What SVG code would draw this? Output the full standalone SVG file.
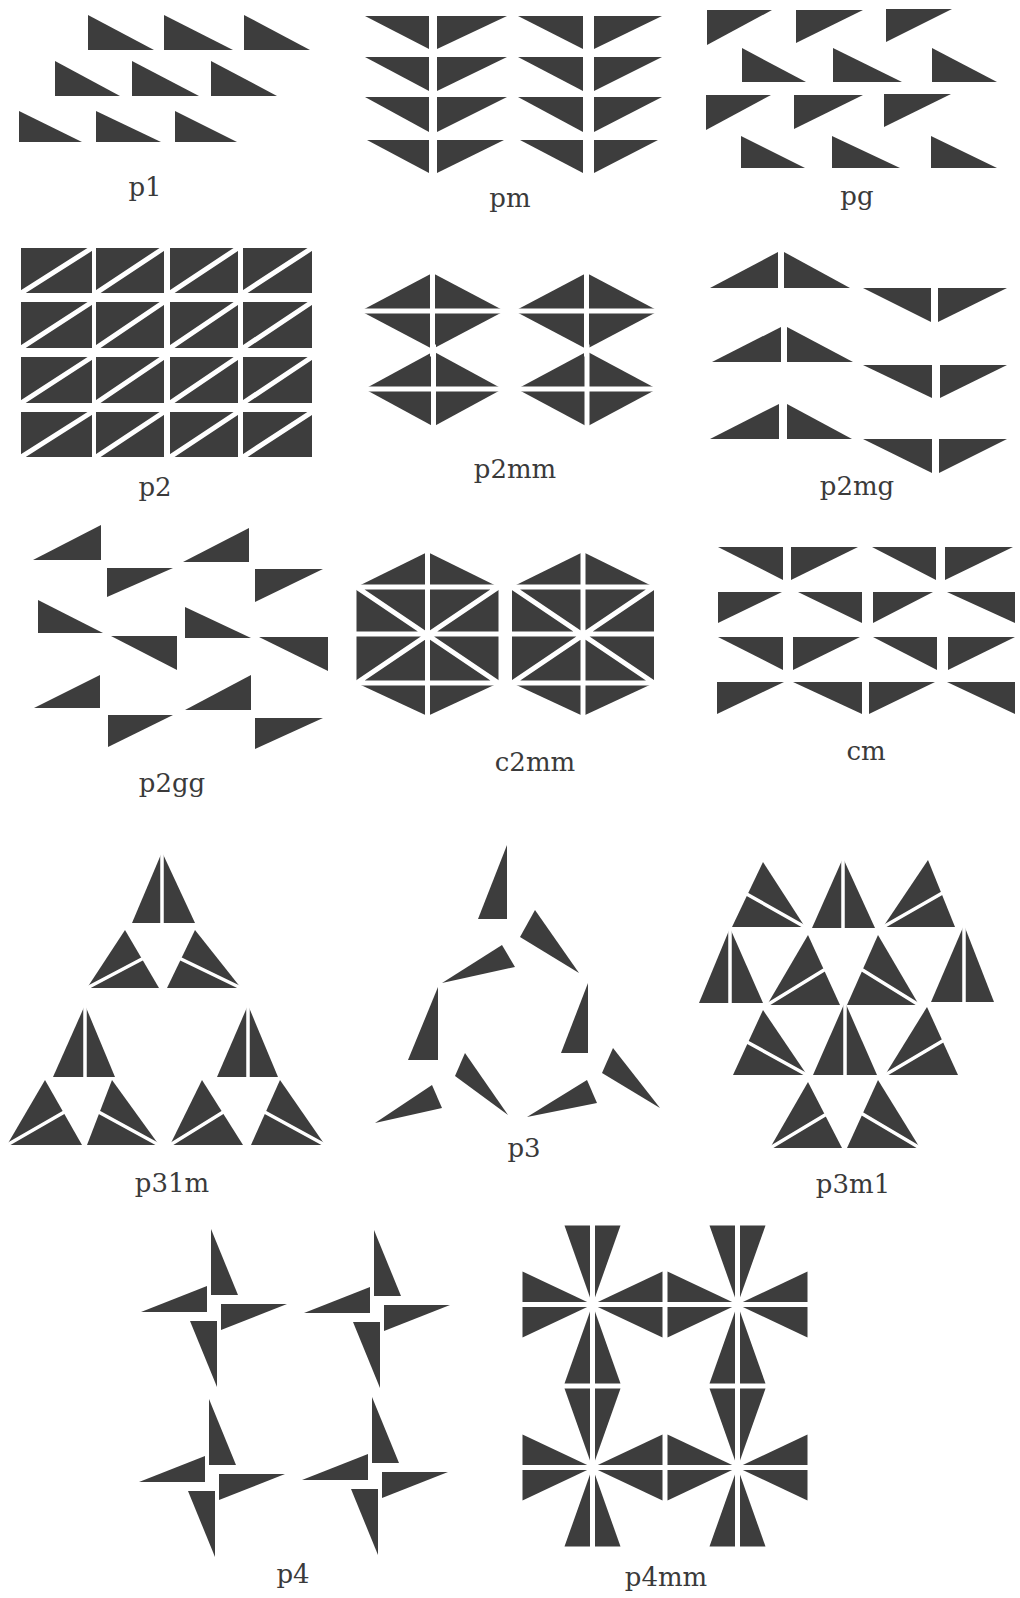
<svg xmlns="http://www.w3.org/2000/svg" xmlns:xlink="http://www.w3.org/1999/xlink" width="1020" height="1598" viewBox="0 0 1020 1598">
<style>
.t{fill:#3d3d3d}
.w{stroke:#fff;fill:none;stroke-width:5;stroke-linecap:square}
.ws{stroke:#fff;fill:none;stroke-width:3.5;stroke-linecap:round}
.lbl{font-family:"DejaVu Serif","Liberation Serif",serif;font-size:26px;fill:#3a3a3a;text-anchor:middle}
</style>
<defs>
<g id="pw">
<polygon class="t" points="-3,-79 -3,-13 24,-13"/>
<polygon class="t" points="73,-4 7,-4 7,22"/>
<polygon class="t" points="3,79 3,13 -24,13"/>
<polygon class="t" points="-73,4 -7,4 -7,-22"/>
</g>
<g id="star">
<polygon class="t" points="0,0 -28,-79 28,-79"/>
<polygon class="t" points="0,0 -28,79 28,79"/>
<polygon class="t" points="0,0 -70,-33 -70,33"/>
<polygon class="t" points="0,0 70,-33 70,33"/>
<path class="w" stroke-width="4" d="M0,-82 V82 M-73,0 H73"/>
</g>
</defs>
<rect width="1020" height="1598" fill="#fff"/>

<g id="p1">
<polygon class="t" points="88,15 88,50 154,50"/>
<polygon class="t" points="164,15 164,50 233,50"/>
<polygon class="t" points="244,15 244,50 310,50"/>
<polygon class="t" points="55,61 55,96 120,96"/>
<polygon class="t" points="132,61 132,96 199,96"/>
<polygon class="t" points="211,61 211,96 277,96"/>
<polygon class="t" points="19,111 19,142 82,142"/>
<polygon class="t" points="96,111 96,142 161,142"/>
<polygon class="t" points="175,111 175,142 237,142"/>
<text class="lbl" x="145" y="196">p1</text>
</g>

<g id="pm">
<polygon class="t" points="365,16 429,16 429,49"/><polygon class="t" points="437,16 507,16 437,49"/>
<polygon class="t" points="518,16 583,16 583,49"/><polygon class="t" points="594,16 662,16 594,49"/>
<polygon class="t" points="365,57 429,57 429,91"/><polygon class="t" points="437,57 507,57 437,91"/>
<polygon class="t" points="518,57 583,57 583,91"/><polygon class="t" points="594,57 662,57 594,91"/>
<polygon class="t" points="365,97 429,97 429,132"/><polygon class="t" points="437,97 507,97 437,132"/>
<polygon class="t" points="518,97 583,97 583,132"/><polygon class="t" points="594,97 662,97 594,132"/>
<polygon class="t" points="367,140 429,140 429,173"/><polygon class="t" points="437,140 504,140 437,173"/>
<polygon class="t" points="520,140 583,140 583,173"/><polygon class="t" points="594,140 658,140 594,173"/>
<text class="lbl" x="510" y="207">pm</text>
</g>

<g id="pg">
<polygon class="t" points="707,10 772,10 707,45"/>
<polygon class="t" points="796,10 863,10 796,43"/>
<polygon class="t" points="886,9 952,9 886,42"/>
<polygon class="t" points="742,48 742,82 806,82"/>
<polygon class="t" points="833,48 833,82 902,82"/>
<polygon class="t" points="932,48 932,82 997,82"/>
<polygon class="t" points="706,95 771,95 706,130"/>
<polygon class="t" points="794,95 863,95 794,129"/>
<polygon class="t" points="884,94 951,94 884,127"/>
<polygon class="t" points="741,136 741,168 805,168"/>
<polygon class="t" points="832,136 832,168 900,168"/>
<polygon class="t" points="931,136 931,168 997,168"/>
<text class="lbl" x="857" y="205">pg</text>
</g>

<g id="p2">
<rect class="t" x="21" y="248" width="71" height="45"/><rect class="t" x="96" y="248" width="68" height="45"/><rect class="t" x="170" y="248" width="68" height="45"/><rect class="t" x="243" y="248" width="69" height="45"/>
<rect class="t" x="21" y="302" width="71" height="46"/><rect class="t" x="96" y="302" width="68" height="46"/><rect class="t" x="170" y="302" width="68" height="46"/><rect class="t" x="243" y="302" width="69" height="46"/>
<rect class="t" x="21" y="357" width="71" height="46"/><rect class="t" x="96" y="357" width="68" height="46"/><rect class="t" x="170" y="357" width="68" height="46"/><rect class="t" x="243" y="357" width="69" height="46"/>
<rect class="t" x="21" y="412" width="71" height="45"/><rect class="t" x="96" y="412" width="68" height="45"/><rect class="t" x="170" y="412" width="68" height="45"/><rect class="t" x="243" y="412" width="69" height="45"/>
<path class="w" d="M21,293 L92,248 M96,293 L164,248 M170,293 L238,248 M243,293 L312,248 M21,348 L92,302 M96,348 L164,302 M170,348 L238,302 M243,348 L312,302 M21,403 L92,357 M96,403 L164,357 M170,403 L238,357 M243,403 L312,357 M21,457 L92,412 M96,457 L164,412 M170,457 L238,412 M243,457 L312,412"/>
<text class="lbl" x="155" y="496">p2</text>
</g>

<g id="p2mm">
<polygon class="t" points="360.5,311 432.5,273 504.5,311 432.5,349"/>
<polygon class="t" points="514.5,311 586.5,273 658.5,311 586.5,349"/>
<polygon class="t" points="364.5,389 433.5,351.5 502.5,389 433.5,426.5"/>
<polygon class="t" points="517,389 587,351.5 657,389 587,426.5"/>
<path class="w" stroke-width="4.5" stroke-linecap="butt" d="M356,311 H509 M432.5,268 V354 M510,311 H663 M586.5,268 V354 M360,389 H507 M433.5,347 V431 M512,389 H662 M587,347 V431"/>
<text class="lbl" x="515" y="478">p2mm</text>
</g>

<g id="p2mg">
<polygon class="t" points="710,288 778,288 778,252"/><polygon class="t" points="784,252 784,288 850,288"/>
<polygon class="t" points="712,362 781,362 781,327"/><polygon class="t" points="787,327 787,362 853,362"/>
<polygon class="t" points="710,439 779,439 779,404"/><polygon class="t" points="787,404 787,439 852,439"/>
<polygon class="t" points="863,288 931,288 931,322"/><polygon class="t" points="938,288 1007,288 938,322"/>
<polygon class="t" points="863,365 932,365 932,398"/><polygon class="t" points="940,365 1007,365 940,398"/>
<polygon class="t" points="863,439 932,439 932,473"/><polygon class="t" points="939,439 1007,439 939,473"/>
<text class="lbl" x="857" y="495">p2mg</text>
</g>

<g id="p2gg">
<polygon class="t" points="33,560 101,560 101,525"/>
<polygon class="t" points="183,562 249,562 249,528"/>
<polygon class="t" points="107,568 173,568 107,597"/>
<polygon class="t" points="255,569 323,569 255,602"/>
<polygon class="t" points="38,600 38,633 103,633"/>
<polygon class="t" points="185,607 185,638 251,638"/>
<polygon class="t" points="111,636 177,636 177,670"/>
<polygon class="t" points="259,637 328,637 328,671"/>
<polygon class="t" points="34,708 100,708 100,675"/>
<polygon class="t" points="185,710 251,710 251,675"/>
<polygon class="t" points="108,715 173,715 108,747"/>
<polygon class="t" points="255,718 323,718 255,749"/>
<text class="lbl" x="172" y="792">p2gg</text>
</g>

<g id="c2mm">
<polygon class="t" points="427.5,552 498.5,587 498.5,683 427.5,716 356.5,683 356.5,587"/>
<polygon class="t" points="583,552 654,587 654,683 583,716 512,683 512,587"/>
<path class="w" stroke-linecap="butt" d="M427.5,548 V720 M352,587 H503 M352,634 H503 M352,683 H503 M356.5,587 L498.5,683 M356.5,683 L498.5,587"/>
<path class="w" stroke-linecap="butt" d="M583,548 V720 M508,587 H658 M508,634 H658 M508,683 H658 M512,587 L654,683 M512,683 L654,587"/>
<text class="lbl" x="535" y="771">c2mm</text>
</g>

<g id="cm">
<polygon class="t" points="718,547 783,547 783,580"/><polygon class="t" points="791,547 858,547 791,580"/>
<polygon class="t" points="872,547 936,547 936,580"/><polygon class="t" points="945,547 1013,547 945,580"/>
<polygon class="t" points="718,592 782,592 718,623"/><polygon class="t" points="798,592 862,592 862,623"/>
<polygon class="t" points="873,592 933,592 873,623"/><polygon class="t" points="947,592 1015,592 1015,623"/>
<polygon class="t" points="718,637 783,637 783,670"/><polygon class="t" points="793,637 860,637 793,670"/>
<polygon class="t" points="873,637 937,637 937,670"/><polygon class="t" points="948,637 1015,637 948,670"/>
<polygon class="t" points="717,682 784,682 717,714"/><polygon class="t" points="793,682 862,682 862,714"/>
<polygon class="t" points="869,682 935,682 869,714"/><polygon class="t" points="947,682 1015,682 1015,714"/>
<text class="lbl" x="866" y="760">cm</text>
</g>

<g id="p31m">
<polygon class="t" points="162,852 132,923 195,923"/>
<polygon class="t" points="125,930 87,988 159,988"/>
<polygon class="t" points="195,930 167,988 241,988"/>
<polygon class="t" points="85,1005 53,1077 115,1077"/>
<polygon class="t" points="45,1080 7,1145 82,1145"/>
<polygon class="t" points="112,1080 87,1145 159,1145"/>
<polygon class="t" points="248,1005 217,1077 278,1077"/>
<polygon class="t" points="202,1080 170,1145 243,1145"/>
<polygon class="t" points="280,1080 251,1145 325,1145"/>
<path class="ws" stroke-linecap="butt" stroke-width="4" d="M162,848 V926 M85,1001 V1080 M248,1001 V1080"/>
<path class="ws" d="M87,988 L142,959 M241,988 L181,959 M7,1145 L63.5,1112.5 M159,1145 L99.5,1112.5 M170,1145 L222.5,1112.5 M325,1145 L265.5,1112.5"/>
<text class="lbl" x="172" y="1192">p31m</text>
</g>

<g id="p3">
<polygon class="t" points="507,845 507,919 478,919"/>
<polygon class="t" points="535,910 520,937 579,973"/>
<polygon class="t" points="442,983 502,945 515,967"/>
<polygon class="t" points="438,987 438,1060 408,1060"/>
<polygon class="t" points="588,983 588,1053 561,1053"/>
<polygon class="t" points="465,1053 455,1076 508,1115"/>
<polygon class="t" points="375,1123 432,1085 442,1108"/>
<polygon class="t" points="527,1117 587,1080 597,1103"/>
<polygon class="t" points="613,1048 602,1073 660,1108"/>
<text class="lbl" x="524" y="1157">p3</text>
</g>

<g id="p3m1">
<polygon class="t" points="763,862 732,927 805,927"/>
<polygon class="t" points="843,858 812,928 875,928"/>
<polygon class="t" points="928,860 883,927 955,927"/>
<polygon class="t" points="730,928 699,1003 763,1003"/>
<polygon class="t" points="808,935 767,1005 840,1005"/>
<polygon class="t" points="878,935 847,1005 919,1005"/>
<polygon class="t" points="964,925 931,1002 994,1002"/>
<polygon class="t" points="763,1010 733,1075 807,1075"/>
<polygon class="t" points="845,1002 813,1075 877,1075"/>
<polygon class="t" points="927,1007 885,1075 958,1075"/>
<polygon class="t" points="808,1082 770,1148 842,1148"/>
<polygon class="t" points="878,1080 847,1148 920,1148"/>
<path class="ws" stroke-linecap="butt" stroke-width="4" d="M843,854 V931 M730,924 V1006 M964,921 V1005 M845,998 V1078"/>
<path class="ws" d="M805,927 L747.5,894.5 M883,927 L941.5,893.5 M767,1005 L824,970 M919,1005 L862.5,970 M807,1075 L748,1042.5 M885,1075 L942.5,1041 M770,1148 L825,1115 M920,1148 L862.5,1114"/>
<text class="lbl" x="853" y="1193">p3m1</text>
</g>

<g id="p4">
<use xlink:href="#pw" href="#pw" x="214" y="1308"/>
<use xlink:href="#pw" href="#pw" x="377" y="1309"/>
<use xlink:href="#pw" href="#pw" x="212" y="1478"/>
<use xlink:href="#pw" href="#pw" x="375" y="1476"/>
<text class="lbl" x="293" y="1583">p4</text>
</g>

<g id="p4mm">
<use xlink:href="#star" href="#star" x="592.5" y="1304.5"/>
<use xlink:href="#star" href="#star" x="737.5" y="1304.5"/>
<use xlink:href="#star" href="#star" x="592.5" y="1467.5"/>
<use xlink:href="#star" href="#star" x="737.5" y="1467.5"/>
<text class="lbl" x="666" y="1586">p4mm</text>
</g>
</svg>
